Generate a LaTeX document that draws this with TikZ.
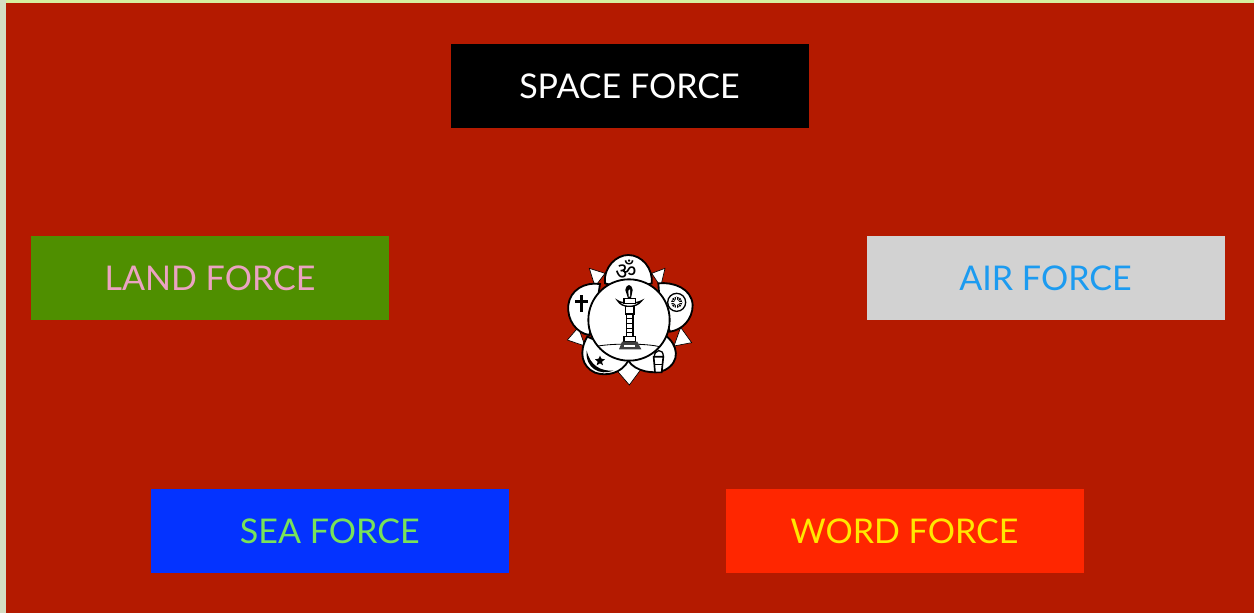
\documentclass[tikz,border=0pt]{standalone}
\usepackage{fontspec}
\setmainfont{Lato}
\newfontfamily\devfont[Script=Devanagari]{Noto Sans}
\definecolor{bgred}{HTML}{B41A00}
\definecolor{edgec}{HTML}{D4DEC4}
\definecolor{topc}{HTML}{D6F0A0}
\definecolor{landg}{HTML}{4F8F00}
\definecolor{landt}{HTML}{EBA3C2}
\definecolor{airg}{HTML}{D2D2D2}
\definecolor{airt}{HTML}{1C9BF0}
\definecolor{seab}{HTML}{0433FF}
\definecolor{seat}{HTML}{78E25A}
\definecolor{wordr}{HTML}{FF2600}
\definecolor{wordt}{HTML}{FFE800}
\tikzset{
  forcebox/.style={rectangle,minimum width=358*0.6bp,minimum height=84*0.6bp,inner sep=0pt,font=\fontsize{20.5}{24}\selectfont},
  petal/.style={fill=white,draw=black,line width=1.1bp},
  tiny/.style={fill=white,draw=black,line width=0.4bp},
  ink/.style={draw=black,line width=0.8bp},
}
\begin{document}
\begin{tikzpicture}[x=0.6bp,y=-0.6bp]
\useasboundingbox (0,0) rectangle (1254,613);
\fill[topc] (0,0) rectangle (1254,613);
\fill[edgec] (0,0) rectangle (6,613);
\fill[bgred] (6,3) rectangle (1254,613);
\node[forcebox,fill=black,text=white] (space) at (629.5,86) {SPACE FORCE};
\node[forcebox,fill=landg,text=landt] (land) at (210,278) {LAND FORCE};
\node[forcebox,fill=airg,text=airt] (air) at (1045.5,278) {AIR FORCE};
\node[forcebox,fill=seab,text=seat] (sea) at (329.8,530.8) {SEA FORCE};
\node[forcebox,fill=wordr,text=wordt] (word) at (904.5,530.8) {WORD FORCE};
\begin{scope}[shift={(550,240)},x=0.2bp,y=-0.2bp]
 % small pointed petals
 \draw[tiny] (165,100) -- (118,85) -- (135,140) -- cycle;
 \draw[tiny] (305,100) -- (345,85) -- (332,140) -- cycle;
 \draw[tiny] (85,262) -- (52,300) -- (105,318) -- cycle;
 \draw[tiny] (392,262) -- (425,308) -- (372,318) -- cycle;
 \draw[tiny] (195,385) -- (238,435) -- (275,385) -- (235,355) -- cycle;
 % big petals
 \draw[petal] (165,130) .. controls (160,80) and (200,45) .. (235,45) .. controls (275,45) and (310,85) .. (305,130) -- (235,150) -- cycle;
 \draw[petal] (325,130) .. controls (370,125) and (425,145) .. (428,195) .. controls (428,240) and (395,270) .. (360,275) -- (330,200) -- cycle;
 \draw[petal] (345,285) .. controls (385,315) and (392,365) .. (345,390) .. controls (315,405) and (255,395) .. (235,362) -- (280,320) -- cycle;
 \draw[petal] (235,362) .. controls (215,400) and (170,410) .. (135,398) .. controls (95,380) and (85,335) .. (112,290) -- (180,320) -- cycle;
 \draw[petal] (118,285) .. controls (80,280) and (50,240) .. (55,195) .. controls (60,150) and (105,125) .. (150,132) -- (140,200) -- cycle;
 % inner disc
 \draw[petal] (237,240) circle[radius=122];
 \draw[ink,line width=0.5bp] (145,318) .. controls (190,310) and (290,310) .. (328,320);
 % lamp
 \fill[black] (234,175) -- (226,150) .. controls (230,130) and (244,130) .. (248,150) -- (243,175) -- cycle;
 \fill[white] (236,170) -- (235,152) -- (240,148) -- (240,170) -- cycle;
 \draw[ink,fill=white] (203,182) .. controls (215,205) and (260,205) .. (275,182) .. controls (260,192) and (215,192) .. (203,182) -- cycle;
 \draw[ink,fill=white] (222,175) rectangle (256,190);
 \draw[ink,fill=white] (226,200) rectangle (252,222);
 \draw[ink,fill=white] (229,222) rectangle (249,290);
 \foreach \yy in {236,250,264,278} \draw[ink,line width=0.5bp] (229,\yy) -- (249,\yy);
 \draw[ink,fill=white] (222,290) rectangle (256,305);
 \fill[black!75] (207,328) -- (216,305) -- (262,305) -- (274,328) -- cycle;
 \fill[white] (222,315) rectangle (256,320);
 % om
 \node[font=\devfont\fontsize{14}{14}\selectfont,inner sep=0pt] (om) at (228,88) {ॐ};
 % cross
 \fill[black] (91,165) rectangle (100,215);
 \fill[black] (76,180) rectangle (114,189);
 % wheel
 \draw[ink,fill=white] (380,187) circle[radius=27];
 \fill[black] (380,187) circle[radius=17];
 \fill[white] (380,187) circle[radius=7];
 \foreach \a in {0,30,...,330} \draw[white,line width=0.3bp] (380,187) -- ++(\a:17);
 % crescent and star
 \fill[black] (110,332) .. controls (105,385) and (150,408) .. (190,392) .. controls (150,394) and (120,375) .. cycle;
 \fill[black] (150,347) -- (154,356) -- (165,358) -- (156,365) -- (159,376) -- (150,370) -- (140,376) -- (143,365) -- (135,358) -- (146,356) -- cycle;
 % jar
 \draw[ink,fill=white] (313,350) .. controls (312,330) and (340,322) .. (340,350) -- cycle;
 \draw[ink,fill=white,line width=1bp] (311,350) -- (340,350) -- (335,397) -- (315,397) -- cycle;
 \draw[ink,line width=0.5bp] (313,372) -- (338,372);
\end{scope}
\end{tikzpicture}
\end{document}
